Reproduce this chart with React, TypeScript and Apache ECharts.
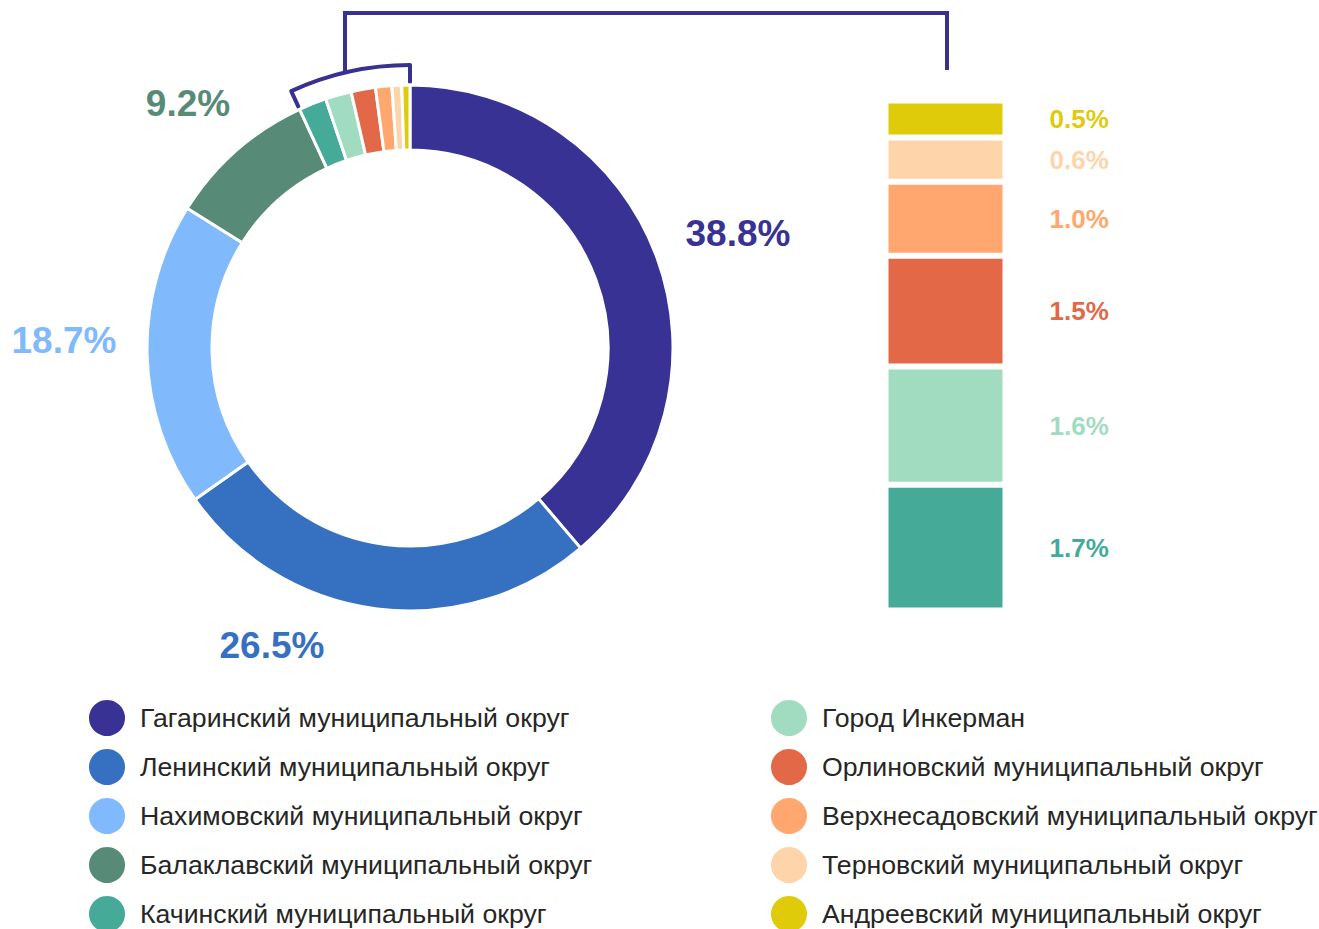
import React, { useEffect, useRef } from "react";
import * as echarts from "echarts";

const districts = [
  "Гагаринский муниципальный округ",
  "Ленинский муниципальный округ",
  "Нахимовский муниципальный округ",
  "Балаклавский муниципальный округ",
  "Качинский муниципальный округ",
  "Город Инкерман",
  "Орлиновский муниципальный округ",
  "Верхнесадовский муниципальный округ",
  "Терновский муниципальный округ",
  "Андреевский муниципальный округ",
];
const shares = [38.8, 26.5, 18.7, 9.2, 1.7, 1.6, 1.5, 1.0, 0.6, 0.5];
const palette = [
  "#383295",
  "#3670c0",
  "#80bafc",
  "#578b78",
  "#45aa98",
  "#a2dcc0",
  "#e26847",
  "#ffa76e",
  "#fed5ab",
  "#dfcb0a",
];
const detailStart = 4; // first index shown in the side bar

const FONT = "'Liberation Sans', Arial, sans-serif";

export default function App() {
  const ref = useRef<HTMLDivElement>(null);

  useEffect(() => {
    if (!ref.current) return;
    const chart = echarts.init(ref.current, undefined, { renderer: "svg" });

    const cx = 410;
    const cy = 348;
    const total = shares.reduce((a, b) => a + b, 0);
    const before = shares.slice(0, detailStart).reduce((a, b) => a + b, 0);
    const a0 = -Math.PI / 2 + (2 * Math.PI * before) / total;
    const a1 = Math.PI * 1.5;
    const R = 283;
    const r2 = 266;
    const vx = 345;
    const vy = cy - Math.sqrt(R * R - (cx - vx) * (cx - vx));
    const bracketColor = "#38318f";

    const bigLabelPos: Record<number, [number, number]> = {
      0: [738, 233],
      1: [272, 645],
      2: [64, 340],
      3: [188, 103],
    };

    const pct = (p: any) => `${Number(p.value).toFixed(1)}%`;

    const pieData = districts.map((name, i) => ({
      name,
      value: shares[i],
      itemStyle: { color: palette[i] },
      label: {
        show: i < detailStart,
        color: palette[i],
      },
    }));

    const detailNames = districts.slice(detailStart);
    const barSeries = detailNames.map((name, k) => {
      const i = detailStart + k;
      return {
        type: "bar",
        name,
        stack: "detail",
        xAxisIndex: 0,
        yAxisIndex: 0,
        barWidth: "100%",
        data: [shares[i]],
        itemStyle: { color: palette[i], borderColor: "#ffffff", borderWidth: 3 },
        label: {
          show: true,
          position: "right",
          distance: 44,
          formatter: pct,
          color: palette[i],
          fontSize: 26,
          fontWeight: "bold",
          fontFamily: FONT,
        },
        emphasis: { disabled: true },
      };
    });

    const legendCommon = {
      orient: "vertical",
      top: 700,
      height: 300,
      padding: 0,
      itemWidth: 36,
      itemHeight: 36,
      itemGap: 13,
      icon: "circle",
      itemStyle: { borderWidth: 0 },
      formatter: (n: string) => `{t|${n}}`,
      textStyle: {
        rich: {
          t: {
            fontSize: 26.7,
            color: "#262626",
            fontFamily: FONT,
            padding: [0, 0, 0, 10],
          },
        },
      },
    };

    const option: any = {
      animation: false,
      backgroundColor: "#ffffff",
      textStyle: { fontFamily: FONT },
      legend: [
        { ...legendCommon, left: 89, data: districts.slice(0, 5) },
        { ...legendCommon, left: 771, data: districts.slice(5) },
      ],
      grid: { left: 885.5, width: 120, top: 100.5, height: 510 },
      xAxis: { type: "category", data: ["detail"], show: false },
      yAxis: {
        type: "value",
        min: 0,
        max: shares.slice(detailStart).reduce((a, b) => a + b, 0),
        show: false,
      },
      series: [
        {
          type: "pie",
          center: [cx, cy],
          radius: [198, 263],
          startAngle: 90,
          clockwise: true,
          avoidLabelOverlap: false,
          itemStyle: { borderColor: "#ffffff", borderWidth: 3 },
          label: {
            position: "outside",
            formatter: pct,
            fontWeight: "bold",
            fontSize: 37,
            fontFamily: FONT,
          },
          labelLine: { show: false },
          labelLayout: (params: any) => {
            const p = bigLabelPos[params.dataIndex];
            if (!p) return {};
            return { x: p[0], y: p[1], align: "center", verticalAlign: "middle" };
          },
          emphasis: { disabled: true },
          data: pieData,
        },
        ...barSeries,
      ],
      graphic: [
        {
          type: "arc",
          shape: { cx, cy, r: R, startAngle: a0, endAngle: a1, clockwise: true },
          style: { stroke: bracketColor, lineWidth: 4, fill: "none" },
          silent: true,
        },
        {
          type: "line",
          shape: {
            x1: cx + R * Math.cos(a0),
            y1: cy + R * Math.sin(a0),
            x2: cx + r2 * Math.cos(a0),
            y2: cy + r2 * Math.sin(a0),
          },
          style: { stroke: bracketColor, lineWidth: 4, lineCap: "round" },
          silent: true,
        },
        {
          type: "line",
          shape: {
            x1: cx + R * Math.cos(a1),
            y1: cy + R * Math.sin(a1),
            x2: cx + r2 * Math.cos(a1),
            y2: cy + r2 * Math.sin(a1),
          },
          style: { stroke: bracketColor, lineWidth: 4, lineCap: "round" },
          silent: true,
        },
        {
          type: "polyline",
          shape: { points: [[vx, vy], [vx, 13], [947, 13], [947, 70]] },
          style: { stroke: bracketColor, lineWidth: 4, fill: "none", lineJoin: "miter" },
          silent: true,
        },
      ],
    };

    chart.setOption(option);
    return () => chart.dispose();
  }, []);

  return (
    <div
      ref={ref}
      style={{ position: "absolute", left: 0, top: 0, width: 1319, height: 929 }}
    />
  );
}
